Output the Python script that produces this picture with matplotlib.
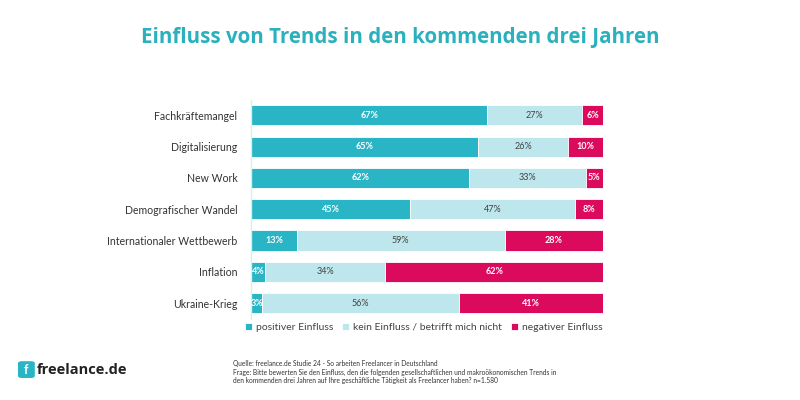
import matplotlib.pyplot as plt
import numpy as np
from matplotlib.patches import FancyBboxPatch

plt.rcParams['font.family'] = ['Lato', 'DejaVu Sans']

trends = ["Fachkräftemangel", "Digitalisierung", "New Work", "Demografischer Wandel",
          "Internationaler Wettbewerb", "Inflation", "Ukraine-Krieg"]
positiv = [67, 65, 62, 45, 13, 4, 3]
kein = [27, 26, 33, 47, 59, 34, 56]
negativ = [6, 10, 5, 8, 28, 62, 41]
series_names = ["positiver Einfluss", "kein Einfluss / betrifft mich nicht", "negativer Einfluss"]

teal = "#29b5c5"
light = "#bde7ec"
red = "#dc0a5c"

fig = plt.figure(figsize=(8, 4), dpi=100)
ax = fig.add_axes([0.314, 0.203, 0.44, 0.548])

y = np.arange(len(trends))
h = 0.64
# every row fills the full width (stacked 100 %)
totals = np.array(positiv) + np.array(kein) + np.array(negativ)
left = np.zeros(len(trends))
for vals, col, txtcol, name in [(positiv, teal, "white", series_names[0]),
                                 (kein, light, "#444444", series_names[1]),
                                 (negativ, red, "white", series_names[2])]:
    vals = np.array(vals)
    w = vals / totals * 100
    ax.barh(y, w, left=left, height=h, color=col, edgecolor="white", linewidth=0.6, label=name)
    for yi, l, v, wi in zip(y, left, vals, w):
        ax.text(l + wi / 2, yi, f"{v}%", ha="center", va="center", color=txtcol, fontsize=6.5,
                fontweight="bold" if txtcol == "white" else "normal")
    left = left + w

ax.set_xlim(0, 100)
ax.set_ylim(len(trends) - 0.5, -0.5)
ax.set_yticks(y)
ax.set_yticklabels(trends, fontsize=7.6, color="#333333")
ax.tick_params(axis="y", length=0, pad=10)
ax.set_xticks([])
for s in ["top", "right", "bottom"]:
    ax.spines[s].set_visible(False)
ax.spines["left"].set_color("#d6eef2")
ax.spines["left"].set_linewidth(1)

ax.legend(loc="upper left", bbox_to_anchor=(-0.045, 0.025), ncol=3, frameon=False,
          fontsize=7.5, handlelength=0.7, handleheight=0.7, handletextpad=0.4,
          columnspacing=0.8, labelcolor="#444444")

fig.text(0.5, 0.905, "Einfluss von Trends in den kommenden drei Jahren", ha="center",
         va="center", fontsize=14.8, fontweight="bold", color="#2bb0be",
         family=["Open Sans", "DejaVu Sans"])

fig.text(0.291, 0.07,
         "Quelle: freelance.de Studie 24 - So arbeiten Freelancer in Deutschland\n"
         "Frage: Bitte bewerten Sie den Einfluss, den die folgenden gesellschaftlichen und makroökonomischen Trends in\n"
         "den kommenden drei Jahren auf Ihre geschäftliche Tätigkeit als Freelancer haben? n=1.580",
         ha="left", va="center", fontsize=4.8, color="#333333", linespacing=1.3)

# logo
logo = FancyBboxPatch((0.0225, 0.055), 0.021, 0.042, boxstyle="round,pad=0,rounding_size=0.005",
                      transform=fig.transFigure, facecolor=teal, edgecolor="none")
fig.patches.append(logo)
fig.text(0.033, 0.076, "f", ha="center", va="center", fontsize=9, fontweight="bold", color="white")
fig.text(0.046, 0.076, "freelance.de", ha="left", va="center", fontsize=10.5,
         fontweight="bold", color="#222222", family=["Open Sans", "DejaVu Sans"])

fig.savefig("out.png", dpi=100, facecolor="white")
